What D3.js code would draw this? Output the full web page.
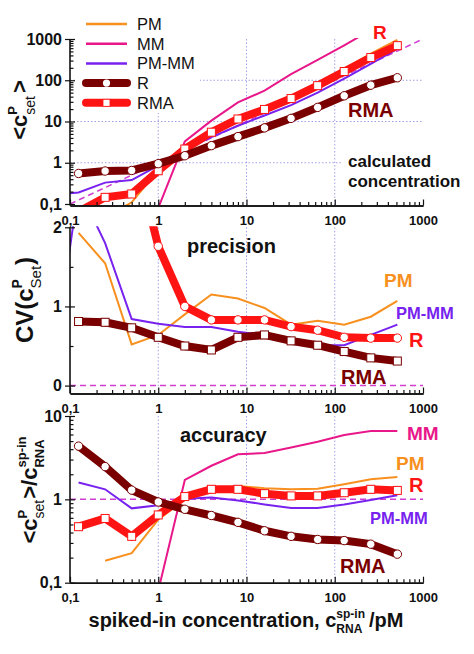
<!DOCTYPE html>
<html>
<head>
<meta charset="utf-8">
<script src="https://cdn.jsdelivr.net/npm/d3@7"></script>
<style>
  body { margin: 0; background: #fff; }
  svg { display: block; font-family: "Liberation Sans", Arial, sans-serif; }
</style>
</head>
<body>
<svg id="chart" width="474" height="654"></svg>
<script>
// spiked-in concentrations (pM), first one only for the clipped PM-MM segment
const conc = [0.0625, 0.125, 0.25, 0.5, 1, 2, 4, 8, 16, 32, 64, 128, 256, 512];

// calculated concentration <c_set>
const calcPM   = [null, null, 0.046, 0.11, 0.65, 2.0, 5.2, 11.8, 22, 42, 86, 190, 440, 950];
const calcMM   = [null, null, null, null, 0.08, 3.3, 10.5, 29, 56, 140, 310, 700, 1650, 3300];
const calcPMMM = [0.17, 0.19, 0.33, 0.38, 0.85, 2.05, 4.2, 7.9, 14, 25, 50, 110, 250, 580];
const calcR    = [null, 0.55, 0.63, 0.65, 0.95, 1.48, 2.6, 4.3, 7.0, 11.9, 22, 42, 76, 115];
const calcRMA  = [null, 0.065, 0.145, 0.175, 0.64, 2.15, 5.5, 11.5, 19.6, 36, 74, 163, 355, 690];

// precision CV
const cvPM   = [null, 1.93, 1.545, 0.52, 0.64, 0.9, 1.15, 1.1, 0.98, 0.77, 0.82, 0.77, 0.87, 1.07];
const cvPMMM = [0.16, 2.5, 1.8, 0.84, 0.78, 0.74, 0.74, 0.68, 0.64, 0.535, 0.51, 0.51, 0.64, 0.77];
const cvR    = [null, 0.81, 0.80, 0.73, 0.61, 0.50, 0.45, 0.61, 0.64, 0.565, 0.51, 0.43, 0.35, 0.31];
const cvRMA  = [null, null, null, 3.1, 1.76, 1.0, 0.83, 0.83, 0.83, 0.745, 0.70, 0.61, 0.60, 0.60];

// accuracy ratio
const accPM   = [null, null, 0.183, 0.226, 0.57, 1.0, 1.3, 1.45, 1.36, 1.32, 1.34, 1.52, 1.74, 1.85];
const accMM   = [null, null, null, null, 0.08, 1.71, 2.53, 3.47, 3.6, 4.2, 4.9, 5.9, 6.6, 6.6];
const accPMMM = [null, 1.59, 1.32, 0.78, 0.85, 1.02, 1.05, 0.97, 0.87, 0.79, 0.79, 0.87, 0.98, 1.12];
const accR    = [null, 4.35, 2.47, 1.29, 0.93, 0.76, 0.64, 0.53, 0.42, 0.36, 0.33, 0.32, 0.29, 0.22];
const accRMA  = [null, 0.47, 0.59, 0.36, 0.65, 1.08, 1.32, 1.32, 1.17, 1.1, 1.1, 1.2, 1.32, 1.28];

const identity = [0.1, 1000];

const xTicks = [0.1, 1, 10, 100, 1000];
const xTickText = ["0,1", "1", "10", "100", "1000"];
const calcTicks = [0.1, 1, 10, 100, 1000];
const calcTickText = ["0,1", "1", "10", "100", "1000"];
const cvTicks = [0, 1, 2];
const cvTickText = ["0", "1", "2"];
const accTicks = [0.1, 1, 10];
const accTickText = ["0,1", "1", "10"];

const legendNames = ["PM", "MM", "PM-MM", "R", "RMA"];

const col = {
  PM: "#f7901e", MM: "#e8178a", PMMM: "#7722ee",
  R: "#7a0000", RMA: "#ff1414", ref: "#d040d0", grid: "#a0a0e8"
};
const FONT = '"Liberation Sans", Arial, sans-serif';

const svg = d3.select("#chart");
const x = d3.scaleLog().domain([0.1, 1000]).range([70, 423]);

function logMinors(lo, hi) {
  let out = [];
  for (let d = lo; d < hi; d *= 10)
    for (let k = 2; k <= 9; k++) out.push(d * k);
  return out;
}

function styleAxis(g, size) {
  g.selectAll(".domain").attr("stroke", "#111").attr("stroke-width", 1.6);
  g.selectAll(".tick line").attr("stroke", "#111").attr("stroke-width", 1.2);
  g.selectAll("text").attr("font-family", FONT).attr("font-weight", "bold")
    .attr("font-size", size).attr("fill", "#111");
}

function drawPanel(p) {
  const y = p.y;
  const top = y.range()[1], bot = p.axisY;
  const g = svg.append("g");

  const clipId = "clip" + p.id;
  svg.append("clipPath").attr("id", clipId).append("rect")
    .attr("x", 70).attr("y", top - 1).attr("width", 353).attr("height", bot - top + 1);

  // grid
  const grid = g.append("g").attr("stroke", col.grid).attr("stroke-width", 1)
    .attr("stroke-dasharray", "1.5,2");
  grid.selectAll("line.v").data([1, 10, 100]).join("line")
    .attr("x1", d => x(d)).attr("x2", d => x(d)).attr("y1", top).attr("y2", bot);
  grid.selectAll("line.h").data(p.hGrid || []).join("line")
    .attr("x1", 70).attr("x2", 423).attr("y1", d => y(d)).attr("y2", d => y(d));

  const plot = g.append("g").attr("clip-path", `url(#${clipId})`);
  if (p.before) p.before(plot, y);

  const line = d3.line().defined(d => d.v != null).x(d => x(d.x)).y(d => y(d.v));
  p.series.forEach(s => {
    const pts = conc.map((c, i) => ({ x: c, v: s.vals[i] }));
    plot.append("path").datum(pts).attr("d", line).attr("fill", "none")
      .attr("stroke", s.color).attr("stroke-width", s.width);
    if (s.marker) {
      const m = pts.filter(d => d.v != null);
      if (s.marker === "circle") {
        plot.selectAll(null).data(m).join("circle")
          .attr("cx", d => x(d.x)).attr("cy", d => y(d.v)).attr("r", 4.2)
          .attr("fill", "#fff").attr("stroke", s.color).attr("stroke-width", 1);
      } else {
        plot.selectAll(null).data(m).join("rect")
          .attr("x", d => x(d.x) - 4).attr("y", d => y(d.v) - 4)
          .attr("width", 8).attr("height", 8)
          .attr("fill", "#fff").attr("stroke", s.color).attr("stroke-width", 1);
      }
    }
  });

  // x axis
  const xa = g.append("g").attr("transform", `translate(0,${bot})`);
  xa.call(d3.axisBottom(x).tickValues(xTicks).tickFormat((d, i) => xTickText[i])
    .tickSizeInner(-6).tickSizeOuter(0).tickPadding(10));
  styleAxis(xa, 13);
  const xm = g.append("g").attr("transform", `translate(0,${bot})`);
  xm.call(d3.axisBottom(x).tickValues(logMinors(0.1, 1000)).tickFormat("")
    .tickSizeInner(-3.5).tickSizeOuter(0));
  styleAxis(xm, 13);

  // y axis
  const ya = g.append("g").attr("transform", "translate(70,0)");
  ya.call(d3.axisLeft(y).tickValues(p.ticks).tickFormat((d, i) => p.tickText[i])
    .tickSizeInner(5).tickSizeOuter(0).tickPadding(3));
  ya.select(".domain").attr("d", `M0,${bot}V${top}`);
  styleAxis(ya, 16);
  const yin = g.append("g").attr("transform", "translate(70,0)");
  yin.call(d3.axisLeft(y).tickValues(p.ticks).tickFormat("").tickSizeInner(-5).tickSizeOuter(0));
  yin.select(".domain").remove();
  styleAxis(yin, 16);
  const ym = g.append("g").attr("transform", "translate(70,0)");
  ym.call(d3.axisLeft(y).tickValues(p.minors).tickFormat("").tickSizeInner(-3.5).tickSizeOuter(0));
  ym.select(".domain").remove();
  styleAxis(ym, 16);
  return g;
}

// text with stacked super/subscripts
function rich(parent, pieces, baseX, baseY, rotate) {
  const g = parent.append("g");
  const inner = g.append("g");
  let cx = 0;
  pieces.forEach(pc => {
    if (pc.sup !== undefined) {
      const a = inner.append("text").attr("x", cx).attr("y", -pc.up)
        .attr("font-size", pc.supSize || pc.size).attr("font-weight", pc.supW || "bold").text(pc.sup);
      const b = inner.append("text").attr("x", cx).attr("y", pc.down)
        .attr("font-size", pc.size).attr("font-weight", pc.subW || "bold").text(pc.sub);
      cx += Math.max(a.node().getComputedTextLength(), b.node().getComputedTextLength()) + (pc.gap || 0);
    } else {
      const t = inner.append("text").attr("x", cx).attr("y", 0)
        .attr("font-size", pc.size).attr("font-weight", "bold").text(pc.t);
      cx += t.node().getComputedTextLength();
    }
  });
  inner.attr("font-family", FONT).attr("fill", "#111").attr("transform", `translate(${-cx / 2},0)`);
  g.attr("transform", rotate ? `translate(${baseX},${baseY}) rotate(-90)` : `translate(${baseX},${baseY})`);
  return g;
}

function label(txt, px, py, size, color) {
  svg.append("text").attr("x", px).attr("y", py).attr("font-family", FONT)
    .attr("font-weight", "bold").attr("font-size", size).attr("fill", color).text(txt);
}

// ---------- top: calculated concentration ----------
const yCalc = d3.scaleLog().domain([0.1, 1000]).range([204, 39]);
drawPanel({
  id: 1, y: yCalc, axisY: 205.5, hGrid: [1, 10, 100],
  ticks: calcTicks, tickText: calcTickText, minors: logMinors(0.1, 1000),
  before: (plot, y) => {
    plot.append("path").datum(identity)
      .attr("d", d3.line().x(d => x(d)).y(d => y(d)))
      .attr("stroke", col.ref).attr("stroke-width", 1.5).attr("stroke-dasharray", "6,4").attr("fill", "none");
  },
  series: [
    { vals: calcPM, color: col.PM, width: 2 },
    { vals: calcMM, color: col.MM, width: 2 },
    { vals: calcPMMM, color: col.PMMM, width: 2 },
    { vals: calcRMA, color: col.RMA, width: 8, marker: "square" },
    { vals: calcR, color: col.R, width: 8, marker: "circle" }
  ]
});

// legend on white
svg.append("rect").attr("x", 76).attr("y", 11).attr("width", 124).attr("height", 102).attr("fill", "#fff");
const legColors = [col.PM, col.MM, col.PMMM, col.R, col.RMA];
const legWidth = [2.5, 2.5, 2.5, 8, 8];
const legMarker = [null, null, null, "circle", "square"];
legendNames.forEach((n, i) => {
  const ly = 24 + i * 19.7;
  svg.append("line").attr("x1", 86).attr("x2", 127).attr("y1", ly).attr("y2", ly)
    .attr("stroke", legColors[i]).attr("stroke-width", legWidth[i])
    .attr("stroke-linecap", legWidth[i] > 3 ? "round" : "butt");
  if (legMarker[i] === "circle")
    svg.append("circle").attr("cx", 106.5).attr("cy", ly).attr("r", 3.6).attr("fill", "#fff");
  if (legMarker[i] === "square")
    svg.append("rect").attr("x", 103).attr("y", ly - 3.5).attr("width", 7).attr("height", 7)
      .attr("fill", "#fff").attr("stroke", col.RMA).attr("stroke-width", 0.8);
  svg.append("text").attr("x", 137).attr("y", ly + 6).attr("font-family", FONT)
    .attr("font-size", 16.5).attr("fill", "#111").text(n);
});

svg.append("rect").attr("x", 341).attr("y", 148).attr("width", 130).attr("height", 44).attr("fill", "#fff");
label("calculated", 348, 166.7, 17, "#111");
label("concentration", 348, 186.7, 17, "#111");
label("R", 373, 39, 19, col.RMA);
label("RMA", 348, 116.7, 20, col.R);

// ---------- middle: precision ----------
const yCV = d3.scaleLinear().domain([-0.1, 2]).range([393.5, 227.3]);
drawPanel({
  id: 2, y: yCV, axisY: 393.5,
  ticks: cvTicks, tickText: cvTickText, minors: [0.5, 1.5],
  before: (plot, y) => {
    plot.append("line").attr("x1", 70).attr("x2", 423).attr("y1", y(0)).attr("y2", y(0))
      .attr("stroke", col.ref).attr("stroke-width", 1.5).attr("stroke-dasharray", "6,4");
  },
  series: [
    { vals: cvPM, color: col.PM, width: 2 },
    { vals: cvPMMM, color: col.PMMM, width: 2 },
    { vals: cvRMA, color: col.RMA, width: 8, marker: "circle" },
    { vals: cvR, color: col.R, width: 8, marker: "square" }
  ]
});
label("precision", 187, 253.3, 20, "#111");
label("PM", 384, 287.3, 19, col.PM);
label("PM-MM", 396, 319.3, 16.5, col.PMMM);
label("R", 409, 346.7, 20, col.RMA);
label("RMA", 341, 384, 20, col.R);

// ---------- bottom: accuracy ----------
const yAcc = d3.scaleLog().domain([0.1, 10]).range([582.7, 416]);
drawPanel({
  id: 3, y: yAcc, axisY: 582.7,
  ticks: accTicks, tickText: accTickText, minors: logMinors(0.1, 10),
  before: (plot, y) => {
    plot.append("line").attr("x1", 70).attr("x2", 423).attr("y1", y(1)).attr("y2", y(1))
      .attr("stroke", col.ref).attr("stroke-width", 1.5).attr("stroke-dasharray", "6,4");
  },
  series: [
    { vals: accPM, color: col.PM, width: 2 },
    { vals: accMM, color: col.MM, width: 2 },
    { vals: accPMMM, color: col.PMMM, width: 2 },
    { vals: accRMA, color: col.RMA, width: 8, marker: "square" },
    { vals: accR, color: col.R, width: 8, marker: "circle" }
  ]
});
label("accuracy", 180, 442, 20, "#111");
label("MM", 407, 440, 19, col.MM);
label("PM", 396, 470, 19, col.PM);
label("R", 409, 491.7, 20, col.RMA);
label("PM-MM", 370, 524.3, 16.5, col.PMMM);
label("RMA", 340, 573.3, 20, col.R);

// ---------- axis titles ----------
rich(svg, [
  { t: "spiked-in concentration, c", size: 20 },
  { sup: "sp-in", sub: "RNA", size: 12, up: 9, down: 6, gap: 4 },
  { t: "/pM", size: 20 }
], 246, 627, false);

rich(svg, [
  { t: "<c", size: 22 },
  { sup: "P", sub: "set", size: 14, supSize: 13, up: 10, down: 8, subW: "normal", gap: 3 },
  { t: ">", size: 22 }
], 27, 110, true);

rich(svg, [
  { t: "CV(c", size: 24 },
  { sup: "P", sub: "Set", size: 15, supSize: 14, up: 11, down: 8, subW: "normal", gap: 1 },
  { t: ")", size: 24 }
], 33, 300, true);

rich(svg, [
  { t: "<c", size: 22 },
  { sup: "P", sub: "set", size: 14, supSize: 13, up: 10, down: 7, subW: "normal", gap: 1 },
  { t: ">/c", size: 22 },
  { sup: "sp-in", sub: "RNA", size: 13, up: 11, down: 7 }
], 37, 490, true);
</script>
</body>
</html>
